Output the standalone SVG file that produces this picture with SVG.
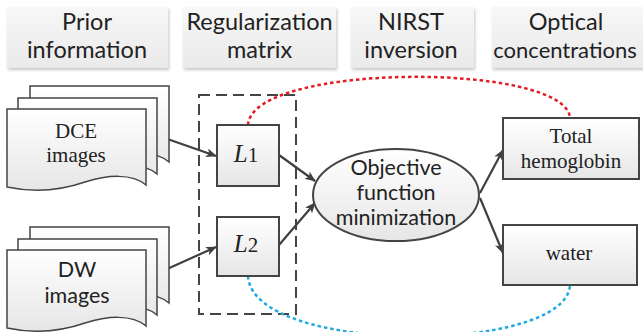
<svg xmlns="http://www.w3.org/2000/svg" width="643" height="332" viewBox="0 0 643 332">
<defs>
  <linearGradient id="hdr" x1="0" y1="0" x2="0" y2="1">
    <stop offset="0" stop-color="#f7f7f7"/>
    <stop offset="1" stop-color="#eaeaea"/>
  </linearGradient>
  <linearGradient id="nodeg" x1="0" y1="0" x2="0" y2="1">
    <stop offset="0" stop-color="#ffffff"/>
    <stop offset="1" stop-color="#e6e6e6"/>
  </linearGradient>
  <filter id="sh" x="-10%" y="-10%" width="125%" height="130%">
    <feDropShadow dx="1" dy="2" stdDeviation="1.5" flood-color="#000" flood-opacity="0.22"/>
  </filter>
  <marker id="arrow" viewBox="0 0 12 10" refX="11" refY="5" markerWidth="11" markerHeight="9" orient="auto" markerUnits="userSpaceOnUse">
    <path d="M0,0 L12,5 L0,10 L3,5 z" fill="#404040"/>
  </marker>
  <path id="page" d="M0,0 H139 V76 C125,64 100,66 78,73 C55,81 28,84 0,78 Z"/>
</defs>
<style>
  .hdr { fill: url(#hdr); filter: url(#sh); }
  .htxt { font-family: Lato, "Liberation Sans", sans-serif; font-size: 23.5px; fill: #222; text-anchor: middle; }
  .doc { fill: url(#nodeg); stroke: #444; stroke-width: 1.5; }
  .box { fill: url(#nodeg); stroke: #444; stroke-width: 2; }
  .stxt { font-family: "Liberation Serif", serif; font-size: 21px; fill: #222; text-anchor: middle; }
  .otxt { font-family: Lato, "Liberation Sans", sans-serif; font-size: 21.5px; fill: #222; text-anchor: middle; }
  .ltxt { font-family: "Liberation Serif", serif; font-size: 25px; fill: #222; text-anchor: middle; }
  .edge { fill: none; stroke: #404040; stroke-width: 2.2; marker-end: url(#arrow); }
</style>

<g id="headers">
  <g id="h-prior">
    <rect class="hdr" x="7" y="7" width="161" height="61"/>
    <text class="htxt" x="87" y="30">Prior</text>
    <text class="htxt" x="87" y="58">information</text>
  </g>
  <g id="h-reg">
    <rect class="hdr" x="183" y="7" width="153" height="61"/>
    <text class="htxt" x="259.5" y="30">Regularization</text>
    <text class="htxt" x="259.5" y="58">matrix</text>
  </g>
  <g id="h-nirst">
    <rect class="hdr" x="351" y="7" width="123" height="61"/>
    <text class="htxt" x="411" y="30">NIRST</text>
    <text class="htxt" x="411" y="58">inversion</text>
  </g>
  <g id="h-opt">
    <rect class="hdr" x="492" y="7" width="151" height="61"/>
    <text class="htxt" x="566" y="30">Optical</text>
    <text class="htxt" x="565" y="58" style="font-size:22px">concentrations</text>
  </g>
</g>

<g id="group-box">
  <rect x="199" y="95" width="97" height="219" fill="none" stroke="#444" stroke-width="2" stroke-dasharray="11,6"/>
</g>

<g id="connectors">
  <path d="M248,125 C252,62 566,62 570,118" fill="none" stroke="#e31b23" stroke-width="2.5" stroke-dasharray="3.5,3"/>
  <path d="M248,276 C252,355 566,355 570,285" fill="none" stroke="#1fa9e1" stroke-width="2.5" stroke-dasharray="3.5,3"/>
  <path class="edge" d="M156,135 L216,156"/>
  <path class="edge" d="M156,274 L216,247"/>
  <path class="edge" d="M279,155 L315,181"/>
  <path class="edge" d="M279,245 L315,203"/>
  <path class="edge" d="M480,193 L503,150"/>
  <path class="edge" d="M480,198 L503,253"/>
</g>

<g id="dce">
  <use href="#page" class="doc" x="30" y="86"/>
  <use href="#page" class="doc" x="18" y="98"/>
  <use href="#page" class="doc" x="7" y="109"/>
  <text class="stxt" x="76" y="138">DCE</text>
  <text class="stxt" x="76" y="162">images</text>
</g>

<g id="dw">
  <use href="#page" class="doc" x="30" y="227"/>
  <use href="#page" class="doc" x="18" y="239"/>
  <use href="#page" class="doc" x="7" y="250"/>
  <text class="otxt" x="77" y="277">DW</text>
  <text class="otxt" x="77" y="303">images</text>
</g>

<g id="L1">
  <rect class="box" x="217" y="125" width="62" height="61"/>
  <text class="ltxt" x="246" y="162"><tspan font-style="italic">L</tspan><tspan font-size="21">1</tspan></text>
</g>
<g id="L2">
  <rect class="box" x="217" y="217" width="62" height="59"/>
  <text class="ltxt" x="246" y="252"><tspan font-style="italic">L</tspan><tspan font-size="21">2</tspan></text>
</g>

<g id="objective">
  <ellipse cx="396" cy="195" rx="83" ry="46" fill="url(#nodeg)" stroke="#444" stroke-width="2"/>
  <text class="otxt" x="396" y="175">Objective</text>
  <text class="otxt" x="396" y="200">function</text>
  <text class="otxt" x="396" y="225">minimization</text>
</g>

<g id="hemoglobin">
  <rect class="box" x="503" y="118" width="136" height="61"/>
  <text class="stxt" x="571" y="143">Total</text>
  <text class="stxt" x="571" y="168">hemoglobin</text>
</g>

<g id="water">
  <rect class="box" x="503" y="225" width="134" height="60"/>
  <text class="stxt" x="569" y="260">water</text>
</g>
</svg>
